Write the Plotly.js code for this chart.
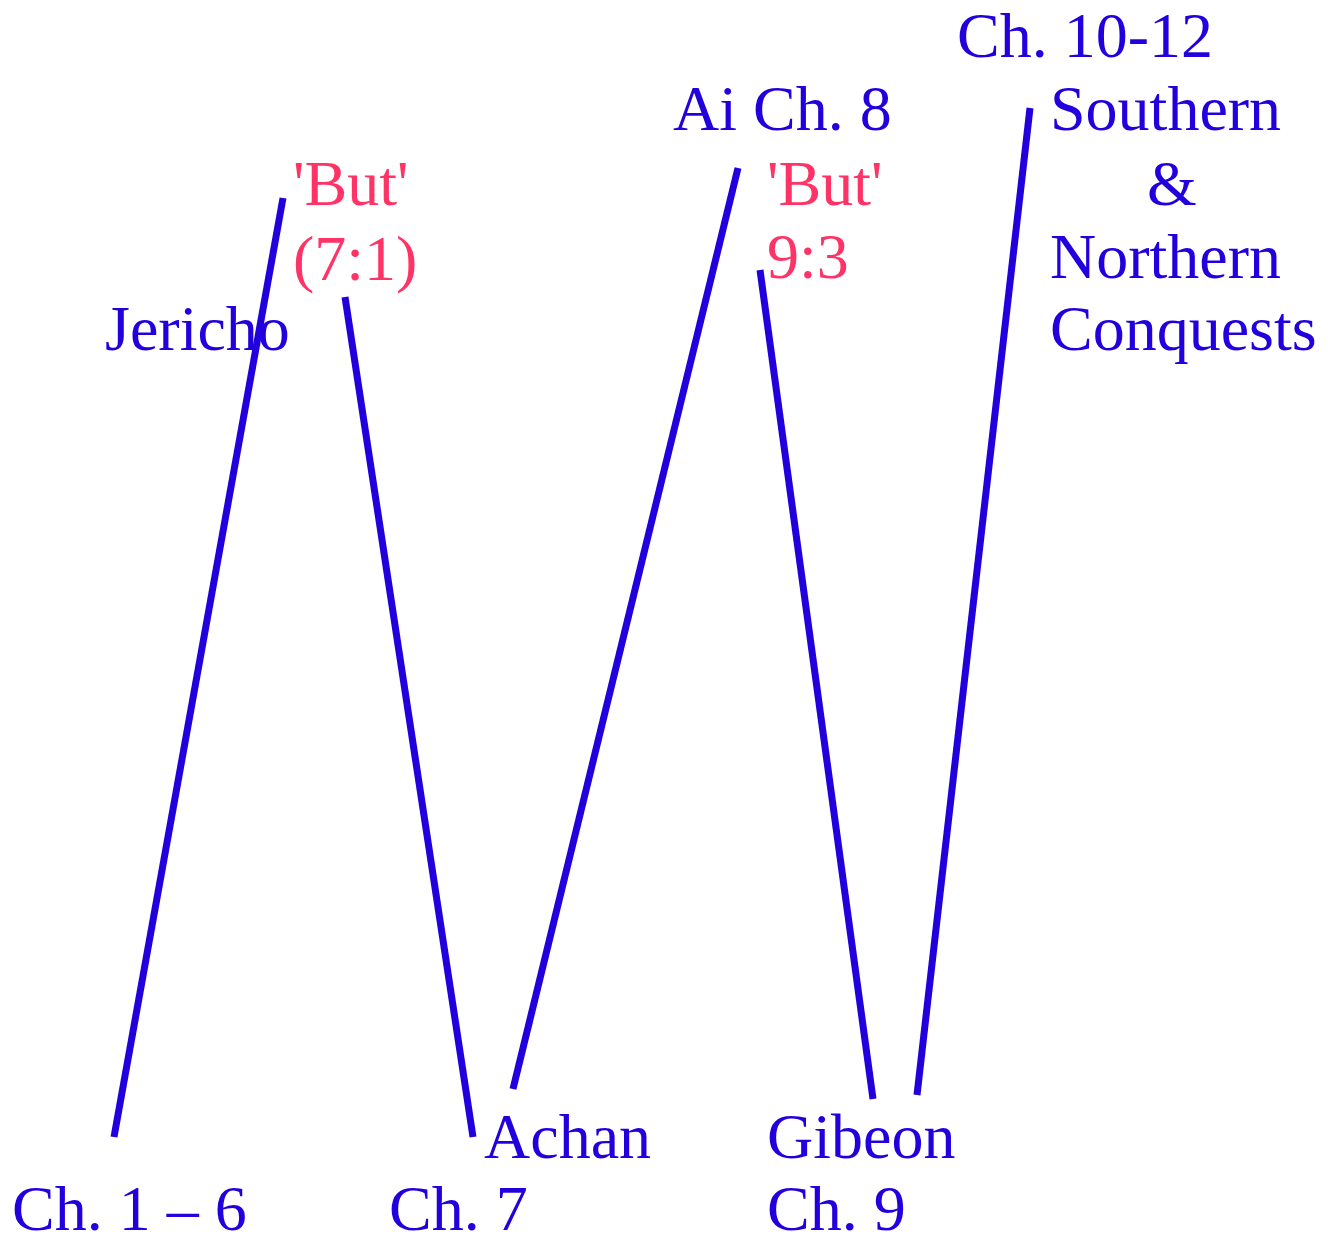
<!DOCTYPE html>
<html>
<head>
<meta charset="utf-8">
<script src="https://cdn.plot.ly/plotly-3.0.1.min.js"></script>
<style>html,body{margin:0;padding:0;background:#fff;}#chart{width:1328px;height:1237px;}</style>
</head>
<body>
<div id="chart"></div>
<script>
// Zig-zag segments (diagram coordinates, y grows downward)
const segStartX = [114, 345, 513, 760, 917];
const segStartY = [1137, 297, 1089, 270, 1095];
const segEndX   = [283, 473, 738, 873, 1030];
const segEndY   = [198, 1137, 168, 1099, 108];

// Labels: text, left x, baseline y, colour group
const labelText = ["Ch. 1 \u2013 6", "Ch. 7", "Achan", "Gibeon", "Ch. 9", "Jericho", "'But'", "(7:1)", "Ai Ch. 8", "'But'", "9:3", "Ch. 10-12", "Southern", "&", "Northern", "Conquests"];
const labelX    = [11, 388, 483, 766, 766, 104, 292, 292, 672, 766, 766, 956, 1049, 1146, 1049, 1049];
const labelY    = [1230, 1230, 1158, 1158, 1230, 350, 205, 280, 130, 205, 278, 57, 130, 205, 278, 350];
const labelRed  = [false, false, false, false, false, false, true, true, false, true, true, false, false, false, false, false];

const BLUE = "#2200dd";
const RED = "#ff3366";
const FS = 64;

const traces = segStartX.map((x0, i) => ({
  type: "scatter", mode: "lines",
  x: [x0, segEndX[i]], y: [segStartY[i], segEndY[i]],
  line: {color: BLUE, width: 7},
  hoverinfo: "skip", showlegend: false
}));

const annotations = labelText.map((t, i) => ({
  text: t, x: labelX[i], y: labelY[i] - 0.33 * FS,
  xref: "x", yref: "y", xanchor: "left", yanchor: "middle",
  showarrow: false, borderpad: 0,
  font: {family: "Liberation Serif, Times New Roman, serif", size: FS, color: labelRed[i] ? RED : BLUE}
}));

const layout = {
  width: 1328, height: 1237,
  margin: {l: 0, r: 0, t: 0, b: 0, pad: 0},
  paper_bgcolor: "#fff", plot_bgcolor: "#fff",
  xaxis: {range: [0, 1328], visible: false, fixedrange: true},
  yaxis: {range: [1237, 0], visible: false, fixedrange: true},
  annotations: annotations,
  showlegend: false
};

Plotly.newPlot("chart", traces, layout, {staticPlot: true, displayModeBar: false});
</script>
</body>
</html>
